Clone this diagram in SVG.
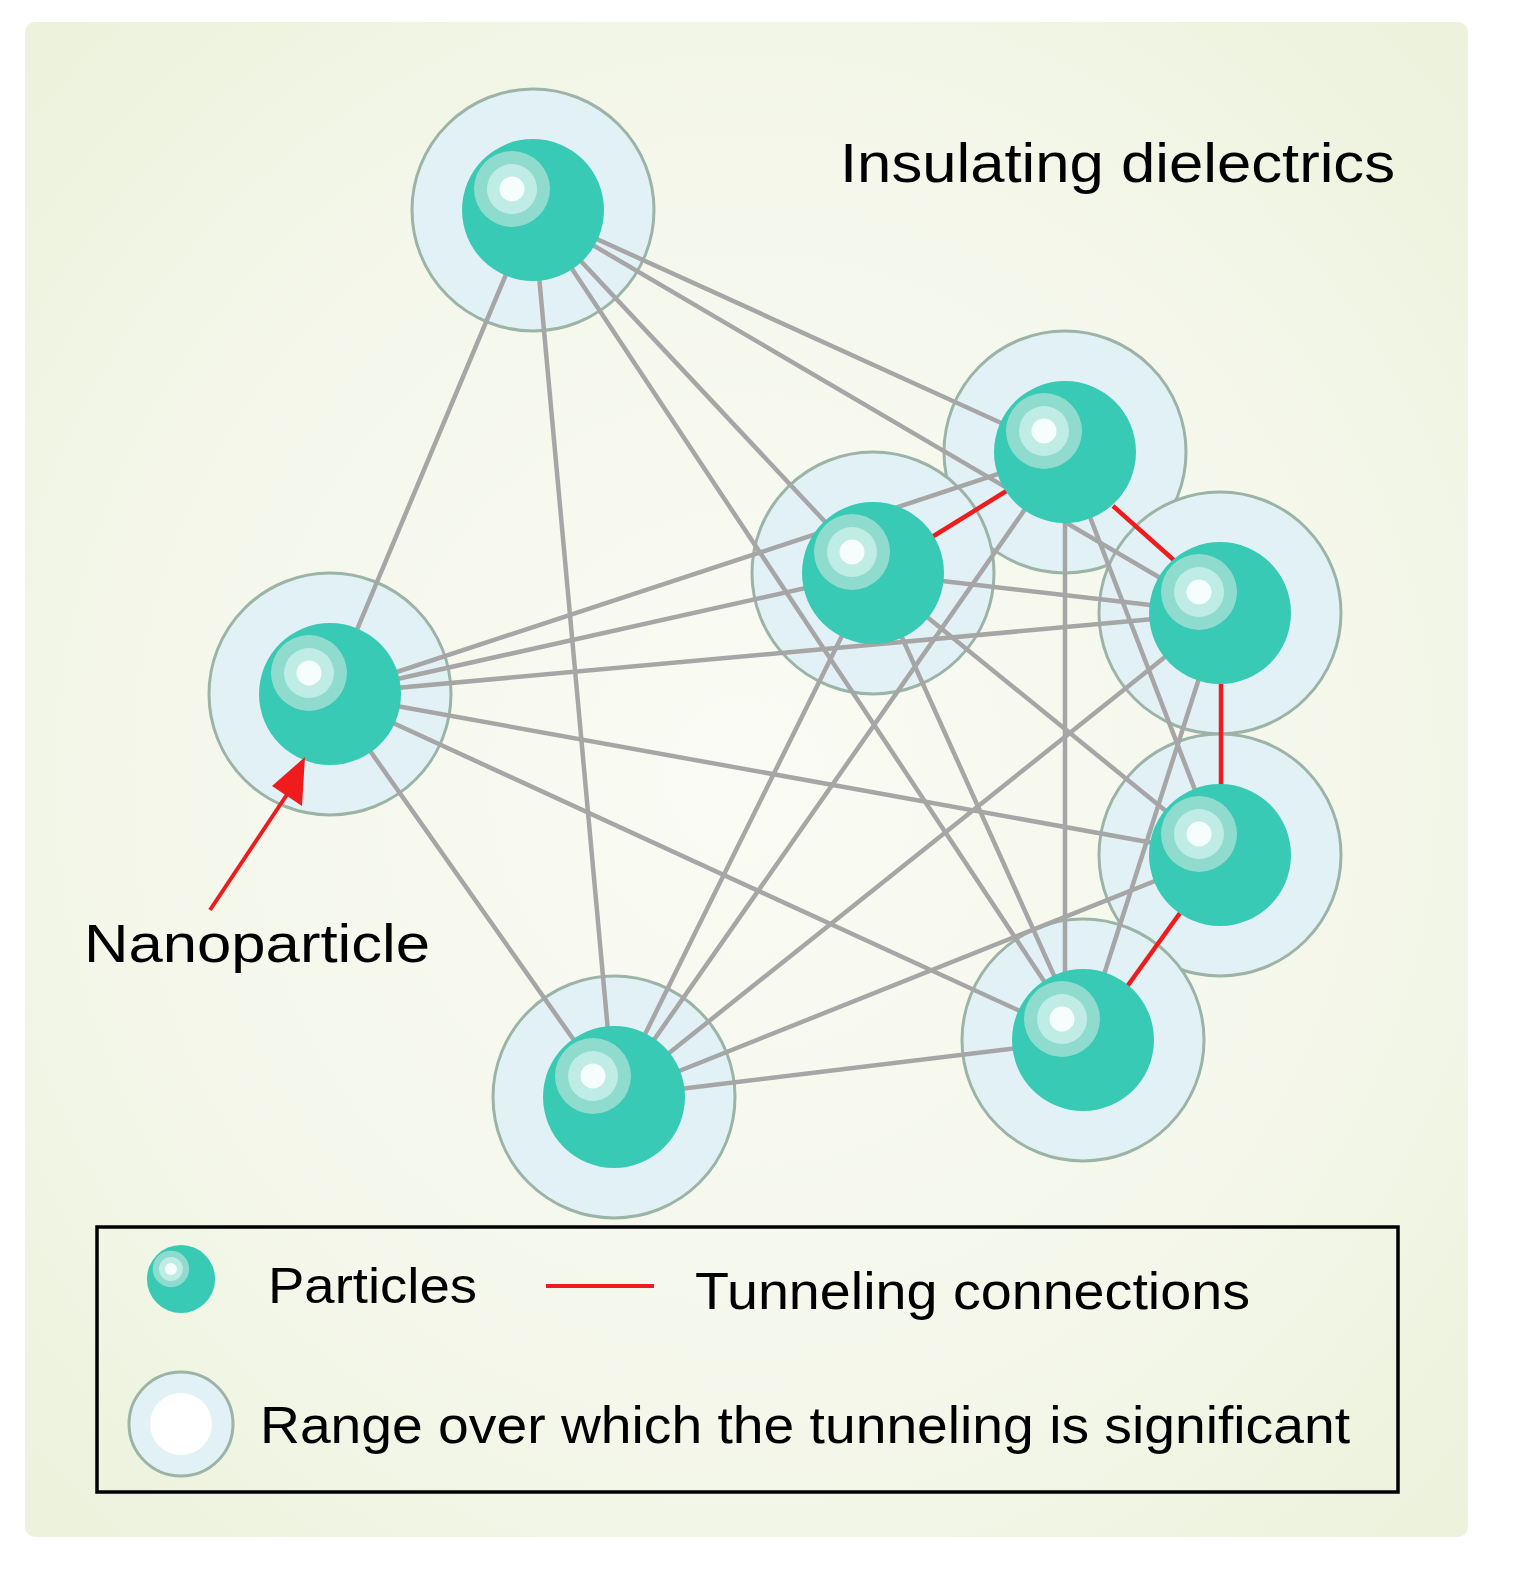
<svg xmlns="http://www.w3.org/2000/svg" width="1515" height="1587" viewBox="0 0 1515 1587">
<defs>
<radialGradient id="bg" cx="0.5" cy="0.5" r="0.7">
<stop offset="0" stop-color="#fafbf4"/><stop offset="0.6" stop-color="#f4f7ea"/><stop offset="1" stop-color="#ecf2dc"/>
</radialGradient>
<g id="p"><circle r="71" fill="#38cab4"/><circle cx="-21" cy="-21" r="38" fill="#8fdccf"/><circle cx="-21" cy="-21" r="25" fill="#bfece5"/><circle cx="-21" cy="-21" r="12.5" fill="#f6fdfd"/></g>
<circle id="h" r="121" fill="#e2f1f6" stroke="#9cb4a6" stroke-width="3"/>
</defs>
<style>
.c line{stroke:#a6a6a6;stroke-width:4.5}
.c line.t{stroke:#ee1c1c}
text{font-family:"Liberation Sans",Arial,sans-serif;fill:#000}
</style>
<rect width="1515" height="1587" fill="#fff"/>
<rect x="25" y="22" width="1443" height="1515" rx="10" fill="url(#bg)"/>
<g id="halos">
<use href="#h" x="533" y="210"/><use href="#h" x="1065" y="452"/><use href="#h" x="873" y="573"/><use href="#h" x="1220" y="613"/>
<use href="#h" x="330" y="694"/><use href="#h" x="1220" y="855"/><use href="#h" x="1083" y="1040"/><use href="#h" x="614" y="1097"/>
</g>
<g id="connectors" class="c">
<line x1="533" y1="210" x2="330" y2="694"/>
<line x1="533" y1="210" x2="614" y2="1097"/>
<line x1="533" y1="210" x2="1083" y2="1040"/>
<line x1="533" y1="210" x2="873" y2="573"/>
<line x1="533" y1="210" x2="1220" y2="613"/>
<line x1="533" y1="210" x2="1065" y2="452"/>
<line x1="330" y1="694" x2="1065" y2="452"/>
<line x1="330" y1="694" x2="873" y2="573"/>
<line x1="330" y1="694" x2="1220" y2="613"/>
<line x1="330" y1="694" x2="1220" y2="855"/>
<line x1="330" y1="694" x2="1083" y2="1040"/>
<line x1="330" y1="694" x2="614" y2="1097"/>
<line x1="873" y1="573" x2="1220" y2="613"/>
<line x1="873" y1="573" x2="1220" y2="855"/>
<line x1="873" y1="573" x2="1083" y2="1040"/>
<line x1="873" y1="573" x2="614" y2="1097"/>
<line x1="1065" y1="452" x2="614" y2="1097"/>
<line x1="1065" y1="452" x2="1065" y2="1040"/>
<line x1="1065" y1="452" x2="1220" y2="855"/>
<line x1="1220" y1="613" x2="614" y2="1097"/>
<line x1="1220" y1="613" x2="1083" y2="1040"/>
<line x1="1220" y1="855" x2="614" y2="1097"/>
<line x1="1083" y1="1040" x2="614" y2="1097"/>
<line class="t" x1="932" y1="537" x2="1008" y2="490"/>
<line class="t" x1="1113" y1="506" x2="1176" y2="562"/>
<line class="t" x1="1221" y1="684" x2="1221" y2="785"/>
<line class="t" x1="1180" y1="913" x2="1126" y2="988"/>
</g>
<g id="n1"><use href="#p" x="533" y="210"/></g>
<g id="n2"><use href="#p" x="1065" y="452"/></g>
<g id="n3"><use href="#p" x="873" y="573"/></g>
<g id="n4"><use href="#p" x="1220" y="613"/></g>
<g id="n5"><use href="#p" x="330" y="694"/></g>
<g id="n6"><use href="#p" x="1220" y="855"/></g>
<g id="n7"><use href="#p" x="1083" y="1040"/></g>
<g id="n8"><use href="#p" x="614" y="1097"/></g>
<text x="840" y="182" font-size="56" textLength="555" lengthAdjust="spacingAndGlyphs">Insulating dielectrics</text>
<g id="arrow"><line x1="210" y1="910" x2="290" y2="790" stroke="#ee1c1c" stroke-width="4"/><polygon points="305,757 302,806 272,786" fill="#ee1c1c"/></g>
<text x="84" y="962" font-size="54" textLength="346" lengthAdjust="spacingAndGlyphs">Nanoparticle</text>
<g id="legend">
<rect x="97" y="1227" width="1301" height="265" fill="none" stroke="#000" stroke-width="3.5"/>
<g transform="translate(181,1279) scale(0.48)"><use href="#p"/></g>
<text x="268" y="1303" font-size="50" textLength="209" lengthAdjust="spacingAndGlyphs">Particles</text>
<line x1="546" y1="1286" x2="654" y2="1286" stroke="#ee1c1c" stroke-width="4"/>
<text x="695" y="1309" font-size="52" textLength="555" lengthAdjust="spacingAndGlyphs">Tunneling connections</text>
<circle cx="181" cy="1424" r="52" fill="#e2f1f6" stroke="#9cb4a6" stroke-width="3"/>
<circle cx="181" cy="1424" r="31" fill="#fff"/>
<text x="260" y="1443" font-size="52" textLength="1090" lengthAdjust="spacingAndGlyphs">Range over which the tunneling is significant</text>
</g>
</svg>
